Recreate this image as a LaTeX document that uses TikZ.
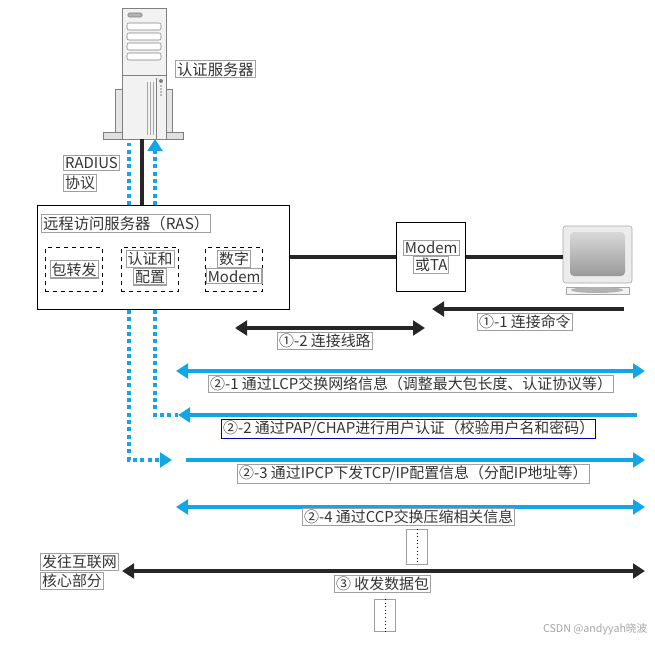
\documentclass[tikz,border=0pt]{standalone}
\usepackage{fontspec}
\setmainfont{Noto Sans CJK SC}
\usetikzlibrary{arrows.meta}
\definecolor{bl}{HTML}{10A6E8}
\definecolor{gb}{HTML}{A0A0A0}
\begin{document}
\begin{tikzpicture}[x=0.75pt,y=-0.75pt,
 lab/.style={draw=gb,line width=0.8pt,inner sep=1.2pt,font=\fontsize{11.2}{12}\selectfont,text=black!80},
 dbx/.style={draw,dashed,line width=0.7pt},
 blk/.style={line width=2.6pt,black!85},
 blu/.style={line width=2.6pt,bl},
 dot/.style={line width=2.6pt,bl,dash pattern=on 3pt off 2.5pt},
 tip/.style={-{Triangle[length=9pt,width=11pt]}},
 tips/.style={{Triangle[length=9pt,width=11pt]}-{Triangle[length=9pt,width=11pt]}},
 dbox/.style={draw=gb,line width=0.8pt,minimum width=16pt,minimum height=26pt}]
\useasboundingbox (0,0) rectangle (655,645);
% server
\draw[fill=gray!25,draw=gray] (103,132) rectangle (183,139);
\draw[fill=gray!20,draw=gray] (115,89) rectangle (172,132);
\draw[fill=gray!10,draw=gray] (122,8) rectangle (166,139);
\draw[draw=gray] (122,75) -- (166,75);
\draw[fill=gray!60,draw=gray,rounded corners=1pt] (128,13) rectangle (142,17);
\foreach \y in {23,33,43,53} \draw[draw=gray,fill=white,rounded corners=1.5pt] (127,\y) rectangle (161,\y+7);
\draw[gray] (156,78) -- (156,139);
\foreach \xx in {147,150,153} \draw[gray!70] (\xx,82) -- (\xx,135);
\fill[gray] (161,81) circle (2);
\foreach \y in {86,89,92,95} \fill[gray] (161,\y) circle (0.8);
\node[lab,anchor=north west,font=\fontsize{11.5}{12}\selectfont] (srvl) at (175,60) {认证服务器};
\coordinate (s1) at (129,143); \coordinate (s2) at (142,139); \coordinate (s3) at (155,139);
% RAS
\node[draw,line width=0.8pt,minimum width=189pt,minimum height=78pt,anchor=north west] (ras) at (37,205) {};
\node[lab,anchor=north west,font=\fontsize{11.5}{12}\selectfont] (rast) at (41,214) {远程访问服务器（RAS）};
\node[dbx,minimum width=43pt,minimum height=33pt,anchor=north west] (b1) at (45,247) {};
\node[dbx,minimum width=43pt,minimum height=33pt,anchor=north west] (b2) at (121,247) {};
\node[dbx,minimum width=43pt,minimum height=33pt,anchor=north west] (b3) at (205,247) {};
\node[lab] (l1) at (b1) {包转发};
\node[lab,anchor=south] (l2a) at ([yshift=1pt]b2.center) {认证和};
\node[lab,anchor=north] (l2b) at ([yshift=1pt]b2.center) {配置};
\node[lab,anchor=south] (l3a) at ([yshift=1pt]b3.center) {数字};
\node[lab,anchor=north] (l3b) at ([yshift=1pt]b3.center) {Modem};
\draw[blk] (s2) -- (142,205);
\draw[dot] (129,205) -- (s1);
\draw[dot,tip] (155,205) -- (s3);
\node[lab,anchor=north west] (rad) at (63,155) {RADIUS};
\node[lab,anchor=north west] (xy) at (63,174) {协议};
% modem
\node[draw,line width=0.8pt,minimum width=52pt,minimum height=52pt,anchor=north west] (mod) at (396,222) {};
\node[lab,anchor=south] (m1) at ([yshift=1pt]mod.center) {Modem};
\node[lab,anchor=north] (m2) at ([yshift=1pt]mod.center) {或TA};
% monitor
\draw[fill=gray!15,draw=gray!70,rounded corners=2pt] (563,226) rectangle (632,283);
\shade[top color=gray!30,bottom color=gray!80,rounded corners=3pt] (570,232) rectangle (625,276);
\draw[fill=gray!10,draw=gray!70] (566,287) rectangle (629,294);
\fill[gray!60] (597,290) ellipse (26 and 3);
\coordinate (pc) at (563,257);
\draw[blk] (ras.east |- 0,257) -- (mod.west |- 0,257);
\draw[blk] (mod.east |- 0,257) -- (pc);
% 1-1
\coordinate (a1) at (624,309); \coordinate (a2) at (432,309);
\draw[blk,tip] (a1) -- (a2);
\node[lab,anchor=north west] (t11) at (477,313) {①-1 连接命令};
\coordinate (b1l) at (235,328); \coordinate (b1r) at (425,328);
\draw[blk,tips] (b1l) -- (b1r);
\node[lab,anchor=north west] (t12) at (277,332) {①-2 连接线路};
% 2-1
\coordinate (c1) at (176,371); \coordinate (c2) at (645,371);
\draw[blu,tips] (c1) -- (c2);
\node[lab,anchor=north west] (t21) at (208,375) {②-1 通过LCP交换网络信息（调整最大包长度、认证协议等）};
% 2-2
\coordinate (d0) at (155,415); \coordinate (d1) at (178,415); \coordinate (d2) at (637,415);
\draw[dot] (155,310) -- (d0) -- (d1);
\draw[blu,tip] (d2) -- (d1);
\node[lab,draw=blue!70!black,anchor=north west] (t22) at (221,419) {②-2 通过PAP/CHAP进行用户认证（校验用户名和密码）};
% 2-3
\coordinate (e0) at (129,460); \coordinate (e1) at (172,460); \coordinate (e2) at (186,460); \coordinate (e3) at (645,460);
\draw[dot] (129,310) -- (e0) -- (160,460);
\draw[blu,tip] (160,460) -- (e1);
\draw[blu,tip] (e2) -- (e3);
\node[lab,anchor=north west] (t23) at (237,464) {②-3 通过IPCP下发TCP/IP配置信息（分配IP地址等）};
% 2-4
\coordinate (f1) at (176,507); \coordinate (f2) at (645,507);
\draw[blu,tips] (f1) -- (f2);
\node[lab,anchor=north west] (t24) at (302,508) {②-4 通过CCP交换压缩相关信息};
\node[dbox,anchor=north west] (g1) at (406,529) {};
\draw[dotted,line width=0.7pt] (g1.north) -- (g1.south);
% 3
\coordinate (h1) at (122,571); \coordinate (h2) at (645,571);
\draw[blk,tips] (h1) -- (h2);
\node[lab,anchor=north west] (t3) at (334,575) {③ 收发数据包};
\node[dbox,anchor=north west,minimum height=24pt] (g2) at (374,599) {};
\draw[dotted,line width=0.7pt] (g2.north) -- (g2.south);
\node[lab,anchor=north west] (n1) at (40,553) {发往互联网};
\node[lab,anchor=north west] (n2) at (40,572) {核心部分};
\node[text=gray!70,font=\fontsize{8}{9}\selectfont,anchor=south east] (wm) at (652,640) {CSDN @andyyah晓波};
\end{tikzpicture}
\end{document}
